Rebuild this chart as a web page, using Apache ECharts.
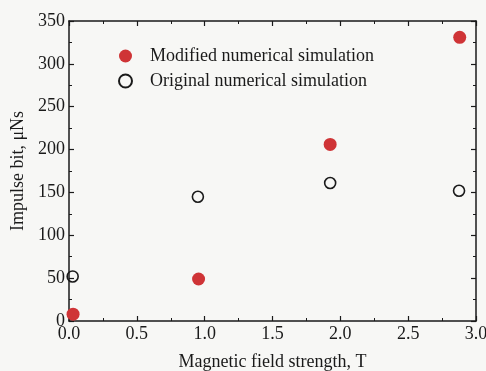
<!DOCTYPE html>
<html>
<head>
<meta charset="utf-8">
<script src="https://cdn.jsdelivr.net/npm/echarts@6/dist/echarts.min.js"></script>
<style>
  html, body { margin: 0; padding: 0; background: #f7f7f5; }
  #chart { width: 486px; height: 371px; }
</style>
</head>
<body>
<div id="chart"></div>
<script>
// Impulse bit vs magnetic field strength
var seriesNames = ['Modified numerical simulation', 'Original numerical simulation'];
var fieldModified = [0.03, 0.955, 1.925, 2.88];
var impulseModified = [8, 49, 206, 331];
var fieldOriginal = [0.027, 0.95, 1.925, 2.875];
var impulseOriginal = [52, 145, 161, 152];

function pairs(xs, ys) {
  return xs.map(function (x, i) { return [x, ys[i]]; });
}

var FONT = '"Liberation Serif", "DejaVu Serif", serif';
var INK = '#1a1a1a';
var FS = 18;

var axisCommon = {
  axisLine: { show: true, onZero: false, lineStyle: { color: INK, width: 1.5 } },
  axisTick: { show: true, inside: true, length: 5, lineStyle: { color: INK, width: 1.2 } },
  minorTick: { show: true, splitNumber: 2, length: 3, lineStyle: { color: INK, width: 1 } },
  splitLine: { show: false },
  minorSplitLine: { show: false }
};

var chart = echarts.init(document.getElementById('chart'), null, { renderer: 'canvas' });
chart.setOption({
  backgroundColor: '#f7f7f5',
  animation: false,
  grid: { left: 69, right: 10, top: 21, bottom: 50, containLabel: false, outerBoundsMode: 'none' },
  legend: {
    orient: 'vertical',
    left: 113,
    top: 42,
    itemWidth: 13,
    itemHeight: 13,
    itemGap: 7,
    textStyle: { fontFamily: FONT, fontSize: FS, color: INK, padding: [0, 0, 0, 13] },
    data: [
      { name: seriesNames[0], icon: 'circle' },
      { name: seriesNames[1], icon: 'circle' }
    ]
  },
  xAxis: [
    Object.assign({
      type: 'value', position: 'bottom', min: 0, max: 3, interval: 0.5,
      name: 'Magnetic field strength, T', nameLocation: 'middle', nameGap: 32,
      nameTextStyle: { fontFamily: FONT, fontSize: FS, color: INK },
      axisLabel: {
        margin: 4, fontFamily: FONT, fontSize: FS, color: INK,
        formatter: function (v) { return v.toFixed(1); }
      }
    }, axisCommon),
    Object.assign({
      type: 'value', position: 'top', min: 0, max: 3, interval: 0.5,
      axisLabel: { show: false }
    }, axisCommon)
  ],
  yAxis: [
    Object.assign({
      type: 'value', position: 'left', min: 0, max: 350, interval: 50,
      name: 'Impulse bit, \u03bcNs', nameLocation: 'middle', nameGap: 38,
      nameTextStyle: { fontFamily: FONT, fontSize: FS, color: INK },
      axisLabel: { margin: 4, fontFamily: FONT, fontSize: FS, color: INK }
    }, axisCommon),
    Object.assign({
      type: 'value', position: 'right', min: 0, max: 350, interval: 50,
      axisLabel: { show: false }
    }, axisCommon)
  ],
  series: [
    {
      name: seriesNames[0],
      type: 'scatter',
      symbol: 'circle',
      symbolSize: 13,
      itemStyle: { color: '#cf3436', opacity: 1 },
      data: pairs(fieldModified, impulseModified),
      z: 3
    },
    {
      name: seriesNames[1],
      type: 'scatter',
      symbol: 'circle',
      symbolSize: 11,
      itemStyle: { color: 'rgba(0,0,0,0)', borderColor: INK, borderWidth: 1.6, opacity: 1 },
      data: pairs(fieldOriginal, impulseOriginal),
      z: 2
    }
  ]
});
</script>
</body>
</html>
